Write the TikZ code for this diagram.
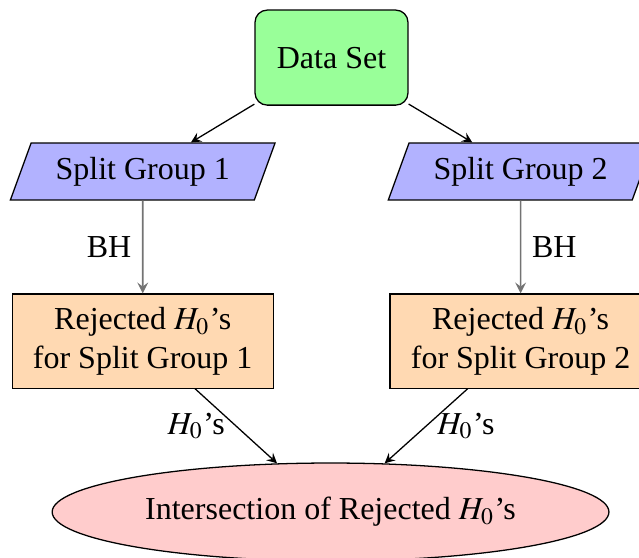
\documentclass[tikz,border=0pt]{standalone}
\usepackage{mathptmx}
\usepackage[no-math]{fontspec}
\setmainfont{Liberation Serif}
\usetikzlibrary{shapes.geometric}

\begin{document}
\begin{tikzpicture}[x=1pt,y=1pt,>=stealth,font=\normalsize,
  startbox/.style={draw,fill=green!40,rounded corners=3.8pt,minimum width=47.8pt,minimum height=29.7pt},
  splitbox/.style={draw,fill=blue!30,trapezium,trapezium left angle=70,trapezium right angle=110,
    inner xsep=3.6pt,minimum height=17.8pt},
  rejbox/.style={draw,fill=orange!30,align=center,minimum width=81.6pt,minimum height=29.4pt},
  interbox/.style={draw,fill=red!20,ellipse,minimum width=174pt,minimum height=30.6pt}]
  \useasboundingbox (0,0) rectangle (199.7,-174.1);
  \clip (0,0) rectangle (199.7,-174.1);

  % Knoten
  \node[startbox] (data) at (103.6,-18) {Data Set};
  \node[splitbox] (split1) at (44.6,-53.6) {Split Group 1};
  \node[splitbox] (split2) at (162.7,-53.6) {Split Group 2};
  \node[rejbox] (rej1) at (44.6,-106.6) {Rejected $H_0$'s\\for Split Group 1};
  \node[rejbox] (rej2) at (162.7,-106.6) {Rejected $H_0$'s\\for Split Group 2};
  \node[interbox] (inter) at (103.3,-160) {Intersection of Rejected $H_0$'s};

  % Pfeile
  \draw[->] (data) -- (split1);
  \draw[->] (data) -- (split2);
  \draw[->,black!55,line width=0.5pt] (split1) -- node[left,black] {BH} (rej1);
  \draw[->,black!55,line width=0.5pt] (split2) -- node[right,black] {BH} (rej2);
  \draw[->] (rej1) -- node[left] {$H_0$'s} (inter);
  \draw[->] (rej2) -- node[right] {$H_0$'s} (inter);
\end{tikzpicture}
\end{document}
